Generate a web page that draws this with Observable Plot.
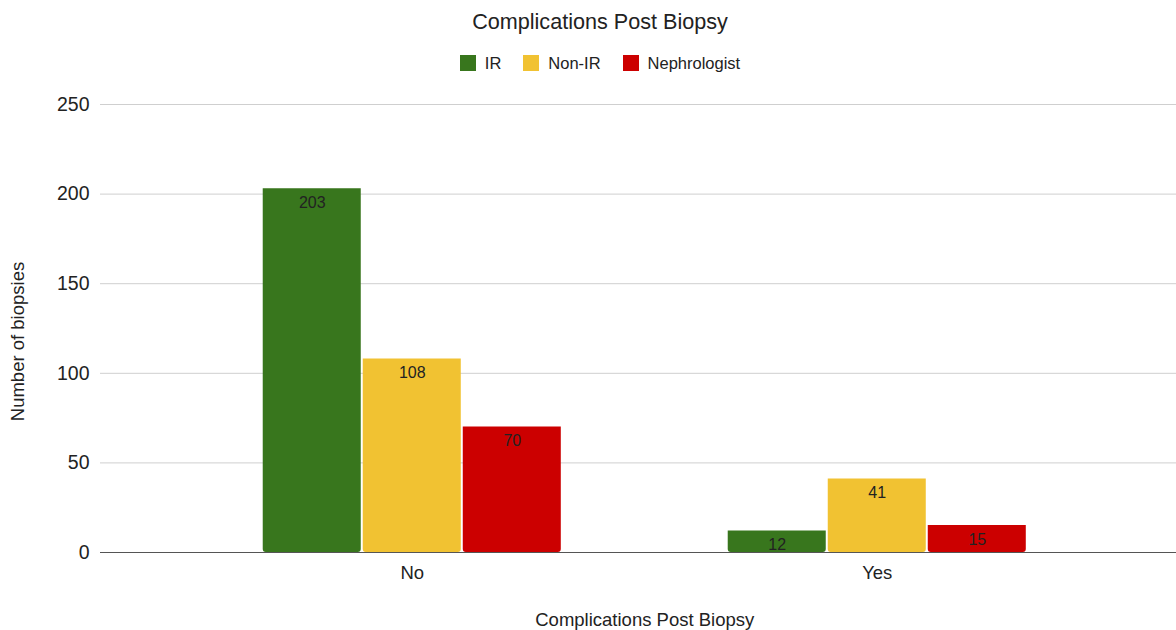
<!DOCTYPE html>
<html>
<head>
<meta charset="utf-8">
<script src="https://cdn.jsdelivr.net/npm/d3@7"></script>
<script src="https://cdn.jsdelivr.net/npm/@observablehq/plot@0.6"></script>
<style>
  html, body { margin: 0; padding: 0; background: #fff; }
  body { width: 1176px; height: 630px; overflow: hidden; font-family: Arial, "Liberation Sans", sans-serif; color: #222; }
  #title { height: 44px; line-height: 44px; text-align: center; font-size: 21.6px; padding-left: 24px; box-sizing: border-box; }
  #legend { height: 36px; display: flex; justify-content: center; align-items: center; padding-left: 24px; padding-top: 2px; box-sizing: border-box; font-size: 16.5px; }
  #legend > div { margin: 0 !important; min-height: 0 !important; }
  #legend span { margin-right: 22px !important; }
  #legend span:last-child { margin-right: 0 !important; }
  #legend span svg { margin-right: 9px !important; }
  #chart { position: relative; width: 1176px; height: 550px; }
  #chart > svg { display: block; position: absolute; left: 0; top: 0; }
</style>
</head>
<body>
<div id="title">Complications Post Biopsy</div>
<div id="legend"></div>
<div id="chart"></div>
<script>
const categories = ["No", "Yes"];
const series = ["IR", "Non-IR", "Nephrologist"];
const irValues = [203, 12];
const nonIrValues = [108, 41];
const nephrologistValues = [70, 15];
const yTicks = [0, 50, 100, 150, 200, 250];
const yLabel = "Number of biopsies";
const xLabel = "Complications Post Biopsy";

const seriesValues = [irValues, nonIrValues, nephrologistValues];
const data = [];
categories.forEach((c, i) => {
  series.forEach((s, j) => {
    data.push({category: c, series: s, value: seriesValues[j][i]});
  });
});

const colorScale = {domain: series, range: ["#38761d", "#f1c232", "#cc0000"]};
const font = "Arial, 'Liberation Sans', sans-serif";

const legend = Plot.legend({
  color: colorScale,
  swatchSize: 16,
  style: {fontFamily: font, fontSize: "16.5px", color: "#222"}
});
document.getElementById("legend").append(legend);

const frame = {
  width: 1176,
  height: 550,
  marginLeft: 100,
  marginRight: 0,
  marginTop: 24,
  marginBottom: 78
};

// Background layer: grid lines, y axis spanning the full frame
const base = Plot.plot({
  ...frame,
  style: {fontFamily: font, fontSize: "16px", color: "#222", background: "transparent"},
  y: {domain: [0, 250]},
  marks: [
    Plot.ruleY(yTicks.filter(d => d > 0), {stroke: "#cfcfcf", strokeWidth: 1}),
    Plot.axisY({
      ticks: yTicks,
      tickSize: 0,
      tickPadding: 11,
      fontSize: 19.5,
      label: null
    }),
    Plot.text([yLabel], {
      text: d => d,
      frameAnchor: "left",
      textAnchor: "middle",
      lineAnchor: "middle",
      rotate: -90,
      dx: -82,
      dy: 13,
      fontSize: 18.5,
      fill: "#222"
    })
  ]
});

// Foreground layer: grouped bars via fx facets
const bars = Plot.plot({
  ...frame,
  style: {fontFamily: font, fontSize: "16px", color: "#222", background: "transparent"},
  fx: {domain: categories, paddingInner: 0.359, paddingOuter: 0.3365, align: 0.52, round: false},
  x: {domain: series, paddingInner: 0.02, paddingOuter: 0, round: false, axis: null},
  y: {domain: [0, 250], axis: null},
  color: colorScale,
  marks: [
    Plot.axisFx({
      anchor: "bottom",
      tickSize: 0,
      tickPadding: 13,
      fontSize: 18.5,
      label: xLabel,
      labelAnchor: "center",
      labelArrow: "none",
      labelOffset: 73
    }),
    Plot.barY(data, {fx: "category", x: "series", y: "value", fill: "series", ry2: 3}),
    Plot.text(data, {fx: "category", x: "series", y: "value", text: d => String(d.value), dy: 14, fontSize: 16, fill: "#222"})
  ]
});

// Top layer: zero baseline
const baseline = Plot.plot({
  ...frame,
  style: {background: "transparent"},
  y: {domain: [0, 250], axis: null},
  marks: [Plot.ruleY([0], {stroke: "#555", strokeWidth: 1.2})]
});

const chart = document.getElementById("chart");
chart.append(base);
chart.append(bars);
chart.append(baseline);
</script>
</body>
</html>
